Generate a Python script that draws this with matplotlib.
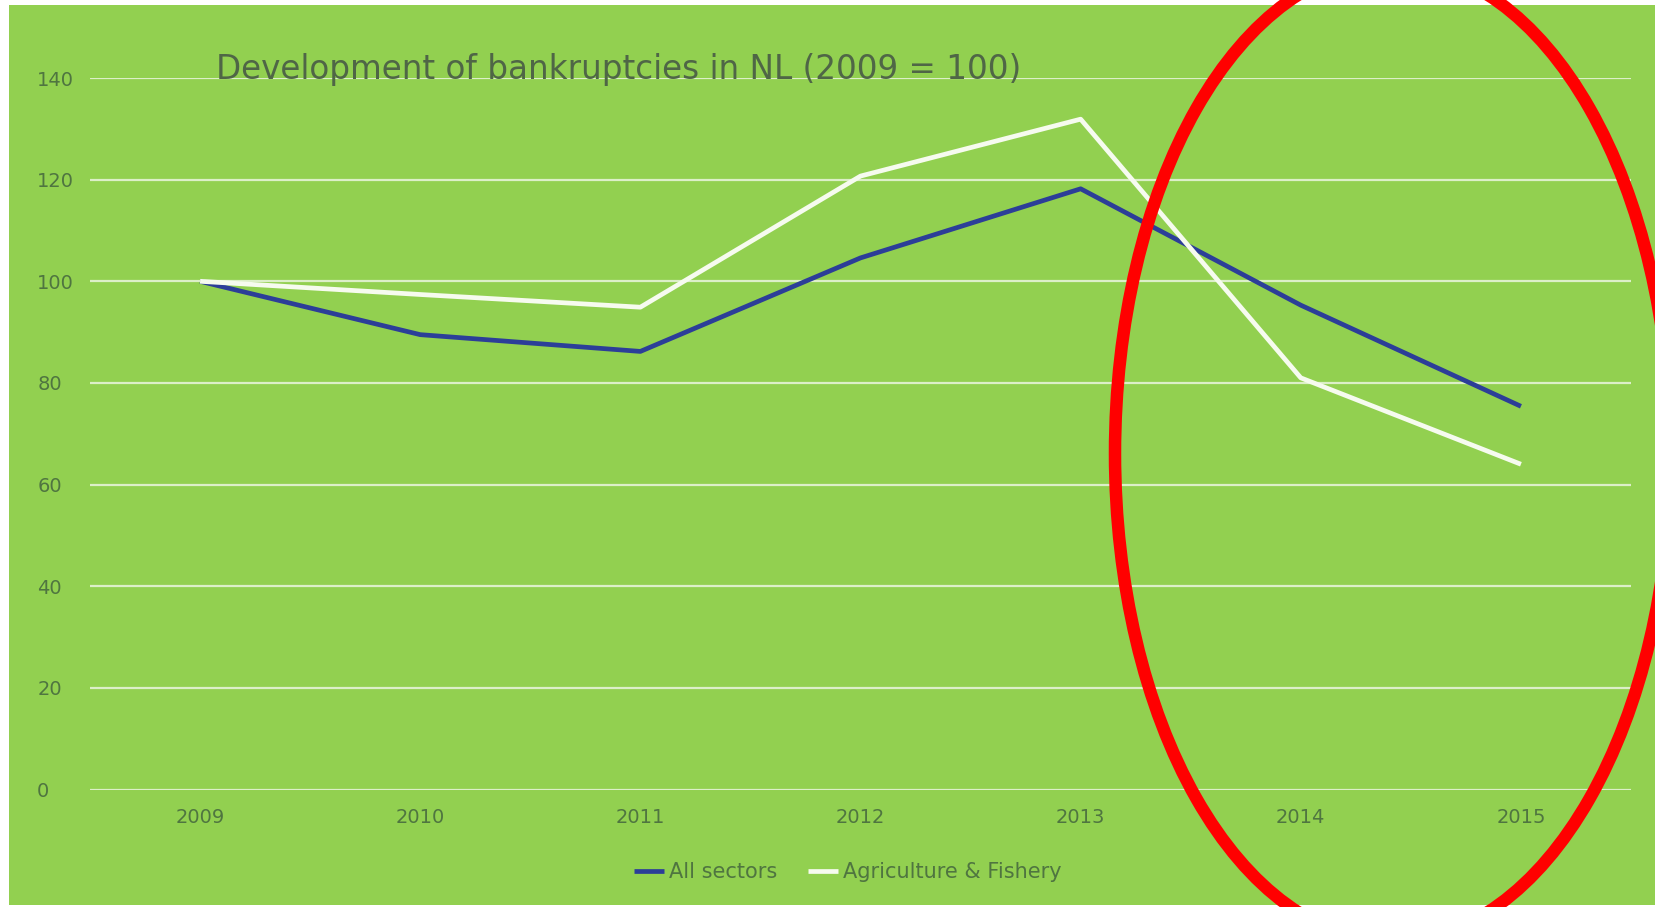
import matplotlib
matplotlib.use('Agg')
import matplotlib.pyplot as plt
from matplotlib.patches import Rectangle, Ellipse

# data (index, 2009 = 100)
years = ['2009', '2010', '2011', '2012', '2013', '2014', '2015']
all_sectors = [100, 89.5, 86.2, 104.6, 118.2, 95.3, 75.4]
agri_fishery = [100, 97.4, 94.9, 120.7, 131.9, 81.0, 64.0]
y_ticks = [0, 20, 40, 60, 80, 100, 120, 140]

bg = '#92d050'
txt = '#4f7540'
W, H = 1655, 907

fig = plt.figure(figsize=(W / 100, H / 100), dpi=100)
fig.patch.set_facecolor('white')
# green chart area with a thin white border, like the screenshot
fig.add_artist(Rectangle((9 / W, 2 / H), 1 - 9 / W, 1 - 7 / H,
                         transform=fig.transFigure, facecolor=bg,
                         edgecolor='none', zorder=0))

ax = fig.add_axes([90 / W, 1 - 789.5 / H, (1631 - 90) / W, (789.5 - 78) / H])
ax.set_facecolor('none')

x = list(range(len(years)))
ax.plot(x, all_sectors, color='#2c3e98', lw=3.4, label='All sectors',
        solid_capstyle='butt', zorder=3)
ax.plot(x, agri_fishery, color='#f6fbef', lw=3.4, label='Agriculture & Fishery',
        solid_capstyle='butt', zorder=3)

ax.set_xlim(-0.5, len(years) - 0.5)
ax.set_ylim(0, 140)
ax.set_yticks(y_ticks)
ax.set_xticks(x)
ax.set_xticklabels(years)
ax.grid(axis='y', color='#dcefc8', lw=1.6)
ax.grid(axis='x', visible=False)
ax.set_axisbelow(True)
for s in ax.spines.values():
    s.set_visible(False)
ax.tick_params(axis='both', length=0, colors=txt, labelsize=14)
ax.tick_params(axis='x', pad=13)
ax.tick_params(axis='y', pad=38)
for lab in ax.get_yticklabels():
    lab.set_horizontalalignment('left')

fig.text(216 / W, 1 - 69 / H, 'Development of bankruptcies in NL (2009 = 100)',
         fontsize=23.5, color='#4f6646', ha='left', va='center')

fig.legend(loc='center', bbox_to_anchor=(848 / W, 1 - 872 / H), ncol=2,
           frameon=False, fontsize=15, labelcolor=txt, handlelength=1.45,
           handletextpad=0.25, columnspacing=1.45)

# red ellipse drawn over the right part of the chart
fig.add_artist(Ellipse((1393 / W, 1 - 453.5 / H), 556 / W, 976 / H,
                       transform=fig.transFigure, facecolor='none',
                       edgecolor='#ff0000', lw=9, zorder=10))

fig.savefig('out.png', dpi=100, facecolor=fig.get_facecolor())
